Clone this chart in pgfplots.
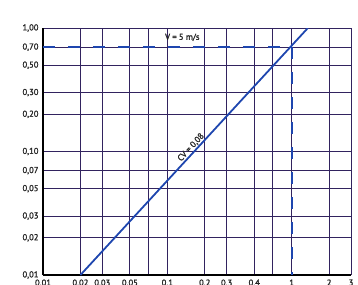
\documentclass[border=0pt]{standalone}
\usepackage{fontspec}
\setmainfont{PT Sans}
\newfontfamily\lblf{PT Sans}[FakeBold=1.6]
\usepackage{pgfplots}
\pgfplotsset{compat=1.18}
\definecolor{gridc}{RGB}{50,35,95}
\definecolor{lineblue}{RGB}{30,70,175}
\newcommand{\lblfont}{\fontsize{8.6}{9.5}\lblf}
\begin{document}
\begin{tikzpicture}
\begin{axis}[
  at={(0,0)}, anchor=south west,
  scale only axis, width=308bp, height=247bp,
  xmode=log, ymode=log,
  xmin=0.01, xmax=3, ymin=0.01, ymax=1,
  axis x line*=bottom, axis y line*=left,
  axis line style={black, line width=1.8pt, -},
  xtick={0.01,0.02,0.03,0.05,0.07,0.1,0.2,0.3,0.5,0.7,1,2,3},
  xticklabels={{0,01},{0,02},{0,03},{0,05},{},{0,1},{0,2},{0,3},{0,4},{},{1},{2},{3}},
  ytick={0.01,0.02,0.03,0.05,0.07,0.1,0.2,0.3,0.5,0.7,1},
  yticklabels={{0,01},{0,02},{0,03},{0,05},{0,07},{0,10},{0,20},{0,30},{0,50},{0,70},{1,00}},
  major tick length=0pt,
  minor tick num=0,
  grid=major, grid style={gridc, line width=0.9pt},
  tick label style={font=\lblfont, text=black!85},
  yticklabel style={xshift=-1bp},
  xticklabel style={yshift=-1bp},
]
\addplot[lineblue, line width=1.8pt] coordinates {(0.02,0.01) (1.35,1)};
\addplot[lineblue, line width=2pt, dash pattern=on 12bp off 13bp] coordinates {(0.01,0.7) (1,0.7)};
\addplot[lineblue, line width=2pt, dash pattern=on 12bp off 13bp] coordinates {(1,0.7) (1,0.01)};
\node[font=\lblfont, text=black!85, inner sep=0pt] at (axis cs:0.132,0.84) {V = 5 m/s};
\node[font=\lblfont, text=black!85, inner sep=0pt, rotate=47.5] at (axis cs:0.155,0.108) {CV = 0,08};
\node[anchor=south west, inner sep=0pt, font=\lblfont, text=black!85] at ([xshift=1bp,yshift=4bp]rel axis cs:0,1) {Pressure drop (bar)};
\end{axis}
\pgfresetboundingbox
\path[use as bounding box] (-43bp,-10bp) rectangle (315bp,275bp);
\end{tikzpicture}
\end{document}
